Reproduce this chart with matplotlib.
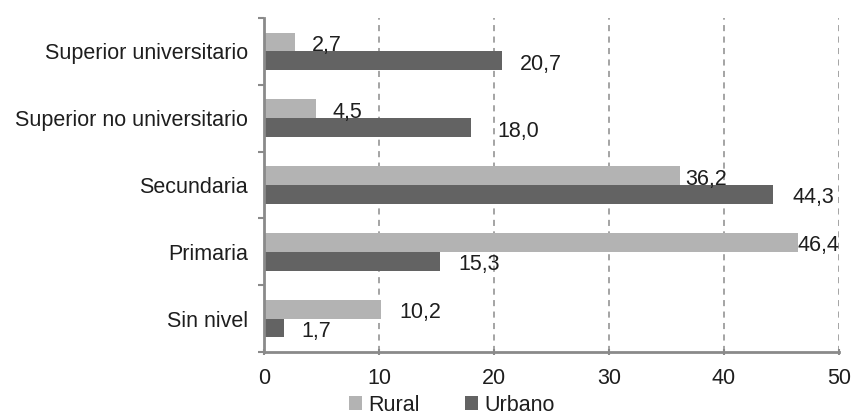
import matplotlib
matplotlib.use("Agg")
import matplotlib.pyplot as plt
from matplotlib.patches import Patch
import numpy as np

plt.rcParams['font.family'] = ['Liberation Sans', 'DejaVu Sans']

categories = ["Sin nivel", "Primaria", "Secundaria",
              "Superior no universitario", "Superior universitario"]
rural = [10.2, 46.4, 36.2, 4.5, 2.7]
urbano = [1.7, 15.3, 44.3, 18.0, 20.7]
series_names = ["Rural", "Urbano"]

# horizontal nudge (points) of each value label past its bar end
rural_label_dx = [13, 0, 3.5, 12, 12]
urbano_label_dx = [13, 13, 14, 19, 13]

RURAL_COLOR = "#b3b3b3"
URBANO_COLOR = "#636363"
AXIS_COLOR = "#8a8a8a"
TEXT_COLOR = "#1e1e1e"
FS = 15.5

fig = plt.figure(figsize=(8.58, 4.15), dpi=100)
ax = fig.add_axes([264 / 858, 1 - 352 / 415, (839 - 264) / 858, (352 - 18) / 415])

y = np.arange(len(categories))
h = 0.28
ax.barh(y + h / 2, rural, height=h, color=RURAL_COLOR, zorder=3)
ax.barh(y - h / 2, urbano, height=h, color=URBANO_COLOR, zorder=3)

def fmt(v):
    return f"{v:.1f}".replace(".", ",")

for yi, v, dx in zip(y, rural, rural_label_dx):
    ax.annotate(fmt(v), (v, yi + h / 2), xytext=(dx, -2.5), textcoords="offset points",
                ha="left", va="center", fontsize=FS, color=TEXT_COLOR, zorder=4)
for yi, v, dx in zip(y, urbano, urbano_label_dx):
    ax.annotate(fmt(v), (v, yi - h / 2), xytext=(dx, -2.5), textcoords="offset points",
                ha="left", va="center", fontsize=FS, color=TEXT_COLOR, zorder=4)

ax.set_xlim(0, 50)
ax.set_ylim(-0.5, len(categories) - 0.5)
ax.set_xticks(np.arange(0, 51, 10))
ax.set_yticks(y)
ax.set_yticklabels(categories, fontsize=FS, color=TEXT_COLOR)
ax.set_yticks(np.arange(-0.5, len(categories), 1.0), minor=True)
ax.tick_params(axis="y", which="major", length=0, pad=11.5)
ax.tick_params(axis="y", which="minor", length=4.5, width=1.5, color=AXIS_COLOR, direction="out")
ax.tick_params(axis="x", which="major", length=4.5, width=1.5, color=AXIS_COLOR,
               direction="inout", labelsize=FS, labelcolor=TEXT_COLOR, pad=9)

ax.grid(axis="x", color="#8c8c8c", linewidth=1.1, linestyle=(0, (4, 3.5)), zorder=1)
ax.set_axisbelow(True)
for side in ("top", "right"):
    ax.spines[side].set_visible(False)
for side in ("left", "bottom"):
    ax.spines[side].set_color(AXIS_COLOR)
    ax.spines[side].set_linewidth(2)
    ax.spines[side].set_zorder(5)

handles = [Patch(facecolor=RURAL_COLOR, edgecolor="none"),
           Patch(facecolor=URBANO_COLOR, edgecolor="none")]
fig.legend(handles, series_names, loc="center", bbox_to_anchor=(452 / 858, 1 - 405 / 415),
           ncol=2, frameon=False, fontsize=FS, handlelength=0.6, handleheight=0.65,
           handletextpad=0.3, columnspacing=2.1, labelcolor=TEXT_COLOR,
           borderpad=0, borderaxespad=0)

fig.savefig("out.png", dpi=100)
